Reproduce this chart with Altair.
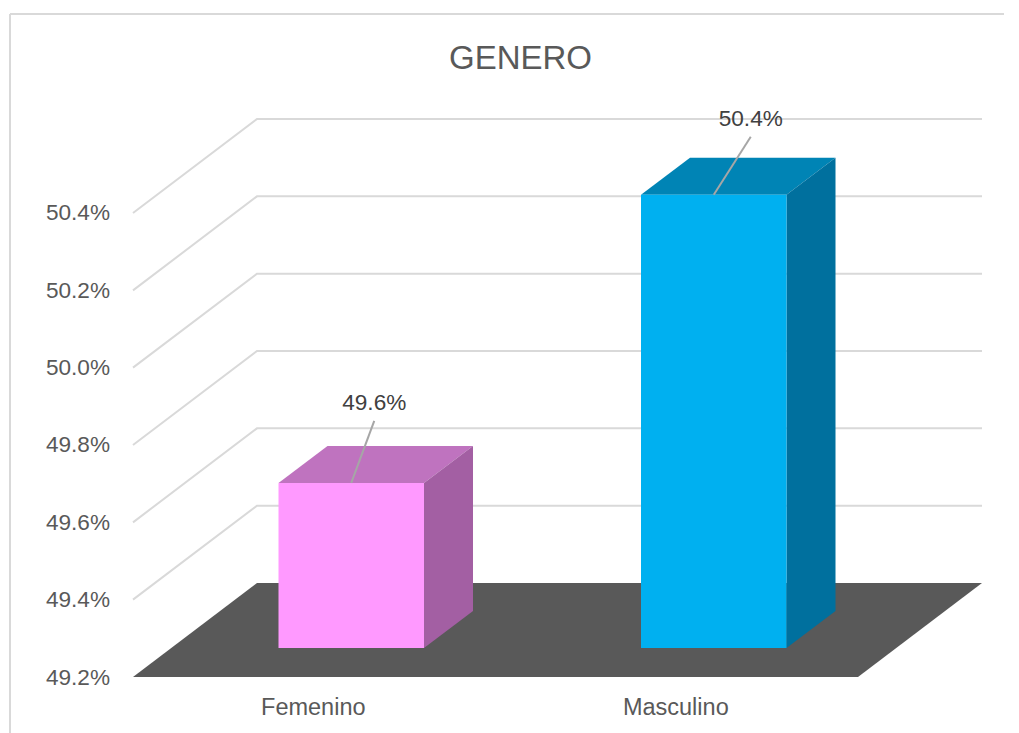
import altair as alt
import pandas as pd

categories = ["Femenino", "Masculino"]
values = [49.627, 50.372]
top_colors = ["#BF73BF", "#0084B5"]
front_colors = ["#FF99FF", "#00B0F0"]
side_colors = ["#A35FA3", "#00709E"]
y_ticks = [49.2, 49.4, 49.6, 49.8, 50.0, 50.2, 50.4]

# oblique projection of the 3D box (pixels per unit)
PX_CAT = 362.5
PX_VAL = 386.67
DEPTH_X = 124 / PX_CAT
DEPTH_Y = 94 / PX_VAL
BASE = 49.2
W = 849
H = 558
x_scale = alt.Scale(domain=[0, W / PX_CAT], nice=False, zero=False)
y_scale = alt.Scale(domain=[BASE, BASE + H / PX_VAL], nice=False, zero=False)
x_axis = alt.Axis(
    values=[0.496, 1.496], labelExpr="datum.value < 1 ? 'Femenino' : 'Masculino'",
    grid=False, domain=False, ticks=False, title=None, labelFontSize=23.5,
    labelColor="#595959", labelPadding=18, labelFont="Liberation Sans")
y_axis = alt.Axis(
    values=y_ticks, labelExpr="format(datum.value, '.1f') + '%'",
    grid=False, domain=False, ticks=False, title=None, labelFontSize=22.6,
    labelColor="#595959", labelPadding=23.5, labelFont="Liberation Sans")
X = lambda f="x": alt.X(f, type="quantitative", scale=x_scale, axis=x_axis)
Y = lambda f="y": alt.Y(f, type="quantitative", scale=y_scale, axis=y_axis)

# bar footprint in units of category width / wall depth
bar_w = 145.5 / PX_CAT
bar_dx = 49 / PX_CAT
bar_dy = 37 / PX_VAL
inset_x = 37 / PX_CAT
inset_y = 29 / PX_VAL

# walls
grid_rows = []
for i, t in enumerate(y_ticks[1:]):
    grid_rows += [
        {"g": i, "o": 0, "x": 0, "y": t},
        {"g": i, "o": 1, "x": DEPTH_X, "y": t + DEPTH_Y},
        {"g": i, "o": 2, "x": W / PX_CAT, "y": t + DEPTH_Y},
    ]
grid = alt.Chart(pd.DataFrame(grid_rows)).mark_line(color="#D9D9D9", strokeWidth=2).encode(
    x=X(), y=Y(), detail="g:N", order="o:Q"
)

floor = alt.Chart(pd.DataFrame({
    "y": [BASE, BASE + DEPTH_Y],
    "x": [0, DEPTH_X],
    "x2": [2, 2 + DEPTH_X],
})).mark_area(color="#595959", orient="horizontal").encode(x=X(), x2="x2:Q", y=Y())

layers = [grid, floor]
for i, (cat, v) in enumerate(zip(categories, values)):
    x0 = i + 0.5 - bar_w / 2 + inset_x
    x1 = x0 + bar_w
    b = BASE + inset_y
    t = v + inset_y
    top = alt.Chart(pd.DataFrame({
        "y": [t, t + bar_dy], "x": [x0, x0 + bar_dx], "x2": [x1, x1 + bar_dx],
    })).mark_area(color=top_colors[i], orient="horizontal").encode(x=X(), x2="x2:Q", y=Y())
    side = alt.Chart(pd.DataFrame({
        "x": [x1, x1 + bar_dx], "y": [b, b + bar_dy], "y2": [t, t + bar_dy],
    })).mark_area(color=side_colors[i], orient="vertical").encode(x=X(), y=Y(), y2="y2:Q")
    front = alt.Chart(pd.DataFrame({
        "x": [x0], "x2": [x1], "y": [b], "y2": [t],
    })).mark_rect(color=front_colors[i]).encode(x=X(), x2="x2:Q", y=Y(), y2="y2:Q")
    cx = (x0 + x1) / 2
    leader_dx = [23, 37][i] / PX_CAT
    leader_dy = [62, 58][i] / PX_VAL
    leader = alt.Chart(pd.DataFrame({
        "x": [cx, cx + leader_dx], "y": [t, t + leader_dy],
    })).mark_line(color="#A6A6A6", strokeWidth=2).encode(x=X(), y=Y())
    label = alt.Chart(pd.DataFrame({
        "x": [cx + leader_dx], "y": [t + leader_dy + 18 / PX_VAL],
        "t": [f"{v:.1f}%"],
    })).mark_text(fontSize=22.6, color="#404040", font="Liberation Sans", baseline="middle").encode(
        x=X(), y=Y(), text="t:N")
    layers += [top, side, front, leader, label]

# chart frame
frame_top = alt.Chart(pd.DataFrame({"a": [1]})).mark_rule(color="#D9D9D9", strokeWidth=2).encode(
    x=alt.value(-123), x2=alt.value(871), y=alt.value(-105))
frame_left = alt.Chart(pd.DataFrame({"a": [1]})).mark_rule(color="#D9D9D9", strokeWidth=2).encode(
    x=alt.value(-123), y=alt.value(-105), y2=alt.value(622))
layers += [frame_top, frame_left]

chart = alt.layer(*layers).properties(
    width=W, height=H,
    title=alt.TitleParams("GENERO", fontSize=33, fontWeight="normal", color="#595959",
                          font="Liberation Sans", anchor="middle", dx=-37, offset=-63),
    padding={"left": 125, "top": 111, "right": 29, "bottom": 56},
    autosize="none",
).configure_view(stroke=None)

chart.save("out.html", embed_options={"renderer": "svg", "actions": False})
